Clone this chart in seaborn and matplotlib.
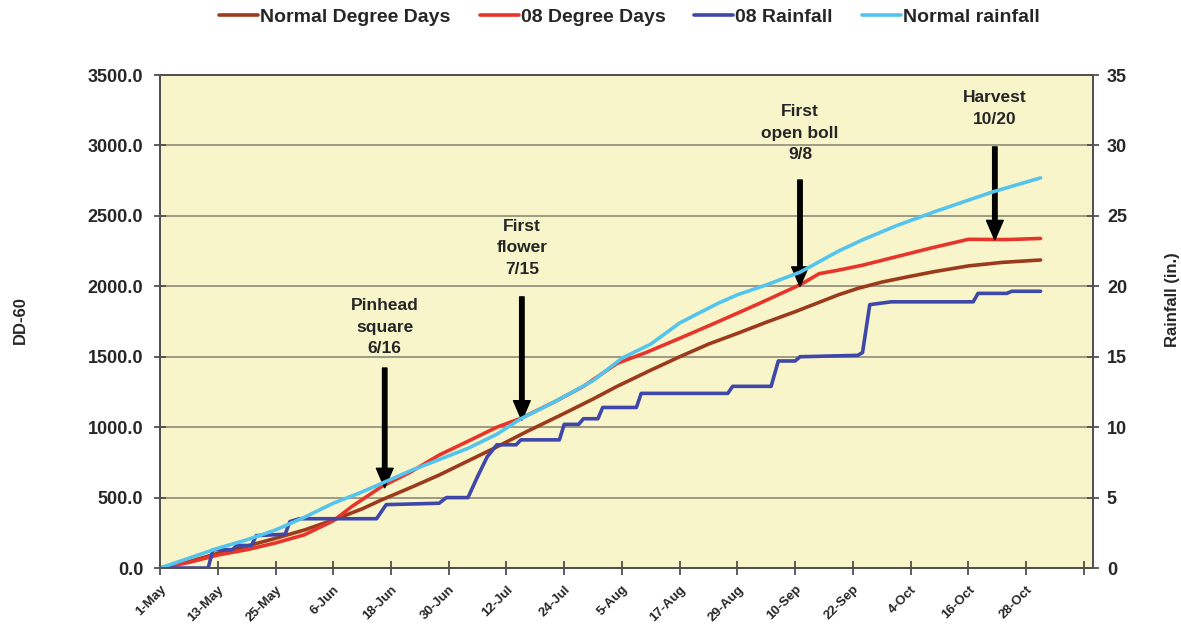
import numpy as np
import pandas as pd
import matplotlib
matplotlib.use('Agg')
import matplotlib.pyplot as plt
import seaborn as sns

# days after 1-May
dd_normal_day = [0, 6, 12, 18, 24, 30, 36, 42, 46, 52, 58, 64, 70, 76, 83, 90, 95, 102, 108, 114,
                 120, 126, 132, 138, 141, 145, 150, 155, 161, 168, 175, 183]
dd_normal = [0, 45, 104, 155, 211, 270, 341, 420, 483, 570, 660, 760, 860, 965, 1081, 1200, 1290,
             1405, 1500, 1590, 1666, 1745, 1820, 1900, 1940, 1985, 2030, 2065, 2105, 2145, 2170, 2187]

dd_08_day = [0, 6, 12, 18, 24, 30, 36, 40, 46, 52, 58, 64, 70, 75, 82, 88, 95, 101, 108, 116,
             124, 132, 134, 137, 141, 146, 153, 160, 168, 175, 177, 183]
dd_08 = [0, 40, 92, 130, 178, 236, 335, 440, 577, 680, 802, 900, 1000, 1063, 1180, 1290, 1453,
         1530, 1631, 1749, 1870, 1995, 2030, 2090, 2115, 2150, 2210, 2270, 2334, 2332, 2333, 2340]

rain_normal_day = [0, 6, 12, 18, 24, 30, 36, 42, 46, 52, 58, 64, 70, 75, 82, 90, 96, 102, 108, 116,
                   120, 126, 133, 141, 146, 153, 161, 167, 173, 179, 183]
rain_normal = [0, 0.7, 1.4, 2.0, 2.7, 3.6, 4.6, 5.4, 6.0, 6.9, 7.7, 8.5, 9.5, 10.6, 11.8, 13.3, 14.9,
               15.9, 17.4, 18.8, 19.4, 20.1, 21.0, 22.5, 23.3, 24.3, 25.3, 26.0, 26.7, 27.3, 27.7]

rain_08_day = [0, 10, 11, 15, 16, 19, 20, 26, 27, 29, 45, 47, 58, 59.5, 64, 66, 68, 70, 74, 75, 83,
               84, 87, 88, 91, 92, 99, 100, 118, 119, 127, 128.5, 132, 133, 145, 146, 147.5, 152,
               169, 170, 176, 177, 183]
rain_08 = [0, 0, 1.3, 1.3, 1.6, 1.6, 2.3, 2.4, 3.3, 3.5, 3.5, 4.5, 4.6, 5.0, 5.0, 6.5, 7.9, 8.75,
           8.75, 9.1, 9.1, 10.2, 10.2, 10.6, 10.6, 11.4, 11.4, 12.4, 12.4, 12.9, 12.9, 14.7, 14.7,
           15.0, 15.1, 15.3, 18.7, 18.9, 18.9, 19.5, 19.5, 19.65, 19.65]

tick_days = list(range(0, 193, 12))
tick_labels = ['1-May', '13-May', '25-May', '6-Jun', '18-Jun', '30-Jun', '12-Jul', '24-Jul',
               '5-Aug', '17-Aug', '29-Aug', '10-Sep', '22-Sep', '4-Oct', '16-Oct', '28-Oct', '']

c_normal_dd = '#9C3A1C'
c_08_dd = '#E8352B'
c_08_rain = '#3F47A8'
c_normal_rain = '#55C4EC'

sns.set_style('ticks')
plt.rcParams['font.family'] = ['Liberation Sans', 'DejaVu Sans']
plt.rcParams['font.weight'] = 'bold'

fig = plt.figure(figsize=(11.81, 6.24), dpi=100)
ax = fig.add_axes([0.1355, 0.0897, 0.790, 0.790])
ax.set_facecolor('#F9F5CB')

df_nd = pd.DataFrame({'day': dd_normal_day, 'val': dd_normal})
df_8d = pd.DataFrame({'day': dd_08_day, 'val': dd_08})
df_nr = pd.DataFrame({'day': rain_normal_day, 'val': rain_normal})
df_8r = pd.DataFrame({'day': rain_08_day, 'val': rain_08})

sns.lineplot(data=df_nd, x='day', y='val', ax=ax, color=c_normal_dd, lw=2.6, estimator=None, sort=False)
sns.lineplot(data=df_8d, x='day', y='val', ax=ax, color=c_08_dd, lw=2.6, estimator=None, sort=False)

ax2 = ax.twinx()
sns.lineplot(data=df_8r, x='day', y='val', ax=ax2, color=c_08_rain, lw=2.6, estimator=None, sort=False)
sns.lineplot(data=df_nr, x='day', y='val', ax=ax2, color=c_normal_rain, lw=2.6, estimator=None, sort=False)

ax.set_xlim(0, 193.9)
ax.set_ylim(0, 3500)
ax2.set_ylim(0, 35)
ax.set_yticks(np.arange(0, 3501, 500))
ax.set_yticklabels(['%.1f' % v for v in np.arange(0, 3501, 500)], fontsize=13, fontweight='bold')
ax2.set_yticks(np.arange(0, 36, 5))
ax2.set_yticklabels([str(v) for v in range(0, 36, 5)], fontsize=13, fontweight='bold')
ax.set_xticks(tick_days)
ax.set_xticklabels(tick_labels, rotation=45, ha='right', rotation_mode='anchor',
                   fontsize=9.5, fontweight='bold')
ax.grid(axis='y', color='#8E8A78', lw=1.2)
ax.set_axisbelow(True)

for a in (ax, ax2):
    for s in a.spines.values():
        s.set_color('#505050')
        s.set_linewidth(1.3)
ax.tick_params(axis='x', direction='inout', length=10, width=1.3, color='#505050', pad=6)
ax.tick_params(axis='y', direction='inout', length=8, width=1.3, color='#505050', pad=8)
ax2.tick_params(axis='y', direction='inout', length=8, width=1.3, color='#505050', pad=6)

ax.set_xlabel('')
ax.set_ylabel('DD-60', fontsize=12, fontweight='bold')
ax.yaxis.set_label_coords(-0.142, 0.503)
ax2.set_ylabel('Rainfall (in.)', fontsize=12, fontweight='bold')
ax2.yaxis.set_label_coords(1.077, 0.544)

# stage annotations
notes = [('Pinhead\nsquare\n6/16', 46.7, 1711, 1420, 570),
         ('First\nflower\n7/15', 75.2, 2275, 1925, 1050),
         ('First\nopen boll\n9/8', 133, 3087, 2755, 2000),
         ('Harvest\n10/20', 173.5, 3261, 2990, 2330)]
for txt, d, ty, y0, y1 in notes:
    ax.text(d, ty, txt, ha='center', va='center', fontsize=12.5, fontweight='bold',
            linespacing=1.55)
    ax.annotate('', xy=(d, y1), xytext=(d, y0),
                arrowprops=dict(facecolor='black', edgecolor='black', width=3.2,
                                headwidth=12, headlength=14))

handles = [plt.Line2D([], [], color=c, lw=2.6) for c in
           (c_normal_dd, c_08_dd, c_08_rain, c_normal_rain)]
labels = ['Normal Degree Days', '08 Degree Days', '08 Rainfall', 'Normal rainfall']
fig.legend(handles, labels, loc='center', bbox_to_anchor=(0.533, 0.972), ncol=4, frameon=False,
           handlelength=2.0, handletextpad=0.1, columnspacing=1.5,
           prop={'weight': 'bold', 'size': 14})

fig.savefig('out.png', dpi=100, facecolor='white')
